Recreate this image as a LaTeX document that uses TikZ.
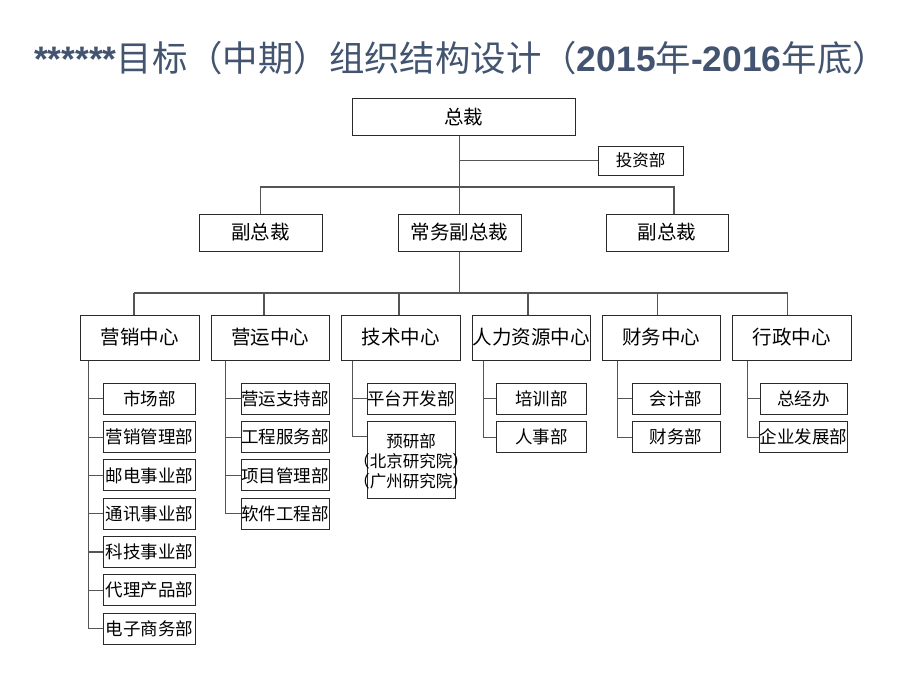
\documentclass[tikz,border=0pt]{standalone}
\usepackage{fontspec}
\setmainfont{Noto Sans CJK SC}
\newfontfamily\latinb{Liberation Sans}
\usetikzlibrary{calc}
\definecolor{titleblue}{HTML}{435470}
\definecolor{lncol}{HTML}{555555}
\definecolor{bxcol}{HTML}{2A2A2A}
\begin{document}
\begin{tikzpicture}[x=1pt,y=-1pt,
  box/.style={draw=bxcol, line width=1pt, inner sep=0pt, fill=white},
  big/.style={box, font=\fontsize{19.5}{22}\selectfont, minimum height=37pt},
  mid/.style={box, font=\fontsize{19.5}{22}\selectfont, minimum height=45pt},
  sub/.style={box, font=\fontsize{17.5}{20}\selectfont, minimum height=31pt},
  conn/.style={draw=lncol, line width=1.2pt}]
\useasboundingbox (0,0) rectangle (920,690);
\fill[white] (0,0) rectangle (920,690);

% title
\node[font=\fontsize{35.4}{40}\selectfont, text=titleblue, inner sep=0pt] (title) at (461,58)
  {{\latinb\bfseries ******}目标（中期）组织结构设计（{\latinb\bfseries 2015}年{\latinb\bfseries -2016}年底）};

% top levels
\node[big, minimum width=223pt, minimum height=36pt] (zc) at (463.5,117) {总裁};
\node[box, font=\fontsize{16.5}{20}\selectfont, minimum width=85pt, minimum height=29pt] (tz) at (640.5,160.5) {投资部};
\node[big, minimum width=123pt] (fl) at (260.5,232.5) {副总裁};
\node[big, minimum width=123pt] (cw) at (459.5,232.5) {常务副总裁};
\node[big, minimum width=122pt] (fr) at (667,232.5) {副总裁};

\draw[conn] (cw.north) -- (cw.north |- zc.south);
\draw[conn] (tz.west) -- (tz.west -| cw.north);
\coordinate (h1) at (0,187);
\coordinate (frd) at ([xshift=7pt]fr.north);
\draw[conn] (fl.north) -- (fl.north |- h1) -- (frd |- h1) -- (frd);

% centres
\node[mid, minimum width=119pt] (c1) at (139.5,337.5) {营销中心};
\node[mid, minimum width=118pt] (c2) at (270,337.5) {营运中心};
\node[mid, minimum width=119pt] (c3) at (400.5,337.5) {技术中心};
\node[mid, minimum width=118pt] (c4) at (531,337.5) {人力资源中心};
\node[mid, minimum width=118pt] (c5) at (661,337.5) {财务中心};
\node[mid, minimum width=119pt] (c6) at (791.5,337.5) {行政中心};

\coordinate (h2) at (0,293);
\draw[conn] (cw.south) -- (cw.south |- h2);
\coordinate (d1) at (134,293);
\coordinate (d2) at (264,293);
\coordinate (d3) at (399,293);
\coordinate (d4) at (528,293);
\coordinate (d5) at (657.7,293);
\coordinate (d6) at (787.7,293);
\draw[conn] (d1) -- (d6);
\foreach \i in {1,...,6} \draw[conn] (d\i) -- (d\i |- c\i.north);

% spines
\coordinate (s1) at (88.3,0);
\coordinate (s2) at (225.7,0);
\coordinate (s3) at (352.7,0);
\coordinate (s4) at (483.3,0);
\coordinate (s5) at (617.3,0);
\coordinate (s6) at (747.7,0);

% marketing
\foreach \t [count=\i] in {市场部,营销管理部,邮电事业部,通讯事业部,科技事业部,代理产品部,电子商务部}
  \node[sub, minimum width=92.4pt] (m\i) at (149.5,{398.8+38.3*(\i-1)}) {\t};
\draw[conn] (c1.south -| s1) |- (m7.west);
\foreach \i in {1,...,6} \draw[conn] (m\i.west) -- (m\i.west -| s1);

% operations
\foreach \t [count=\i] in {营运支持部,工程服务部,项目管理部,软件工程部}
  \node[sub, minimum width=87.7pt] (o\i) at (285.2,{398.8+38.3*(\i-1)}) {\t};
\draw[conn] (c2.south -| s2) |- (o4.west);
\foreach \i in {1,...,3} \draw[conn] (o\i.west) -- (o\i.west -| s2);

% technology
\node[sub, minimum width=87.7pt] (j1) at (411.2,398.8) {平台开发部};
\node[sub, minimum width=87.7pt, minimum height=76.6pt] (j2) at (411.2,460) {};
\node[font=\fontsize{16.5}{20}\selectfont, align=center, inner sep=0pt] (j2t) at (411.2,461.5)
  {预研部\\（北京研究院）\\（广州研究院）};
\coordinate (jb) at ([yshift=-15.3pt]j2.north west);
\draw[conn] (c3.south -| s3) |- (jb);
\draw[conn] (j1.west) -- (j1.west -| s3);

% HR
\node[sub, minimum width=90pt] (r1) at (541.7,398.8) {培训部};
\node[sub, minimum width=90pt] (r2) at (541.7,437.1) {人事部};
\draw[conn] (c4.south -| s4) |- (r2.west);
\draw[conn] (r1.west) -- (r1.west -| s4);

% finance
\node[sub, minimum width=87.7pt] (f1) at (676.2,398.8) {会计部};
\node[sub, minimum width=87.7pt] (f2) at (676.2,437.1) {财务部};
\draw[conn] (c5.south -| s5) |- (f2.west);
\draw[conn] (f1.west) -- (f1.west -| s5);

% administration
\node[sub, minimum width=87.3pt] (a1) at (803.7,398.8) {总经办};
\node[sub, minimum width=87.3pt] (a2) at (803.7,437.1) {企业发展部};
\draw[conn] (c6.south -| s6) |- (a2.west);
\draw[conn] (a1.west) -- (a1.west -| s6);
\end{tikzpicture}
\end{document}
